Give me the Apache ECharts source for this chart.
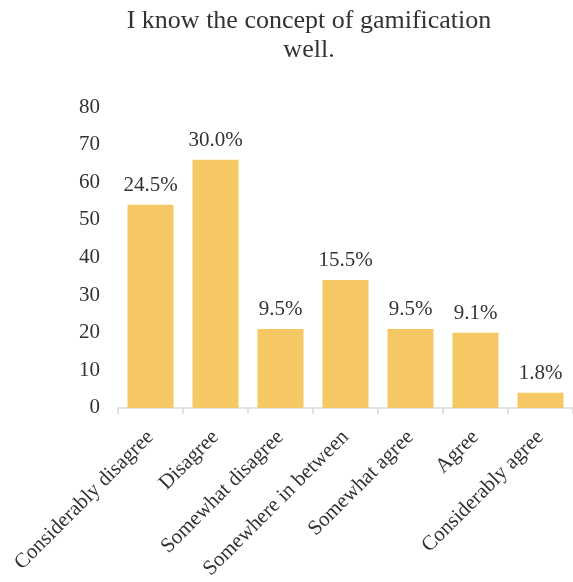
<!DOCTYPE html>
<html>
<head>
<meta charset="utf-8">
<script src="https://cdn.jsdelivr.net/npm/echarts@6/dist/echarts.min.js"></script>
<style>
  html, body { margin: 0; padding: 0; background: #fff; }
  #chart { width: 573px; height: 582px; }
</style>
</head>
<body>
<div id="chart"></div>
<script>
// Responses to the statement, counts per answer option
const categories = [
  'Considerably disagree',
  'Disagree',
  'Somewhat disagree',
  'Somewhere in between',
  'Somewhat agree',
  'Agree',
  'Considerably agree'
];
const counts = [54, 66, 21, 34, 21, 20, 4];
const yTicks = { min: 0, max: 80, interval: 10 };

const total = counts.reduce((a, b) => a + b, 0);
const percentLabels = counts.map(c => (c / total * 100).toFixed(1) + '%');

const serif = '"Liberation Serif", "Times New Roman", serif';
const textColor = '#333333';

const chart = echarts.init(document.getElementById('chart'));
chart.setOption({
  animation: false,
  backgroundColor: '#ffffff',
  title: {
    text: 'I know the concept of gamification\nwell.',
    left: 304,
    top: 2,
    textAlign: 'center',
    textStyle: {
      fontFamily: serif,
      fontSize: 26,
      fontWeight: 'normal',
      color: textColor,
      lineHeight: 29
    }
  },
  grid: {
    left: 118,
    top: 107,
    width: 462,
    height: 307,
    containLabel: false
  },
  xAxis: {
    type: 'category',
    data: categories,
    boundaryGap: true,
    axisLine: { lineStyle: { color: '#d9d9d9', width: 1.5 } },
    axisTick: { show: true, length: 6, lineStyle: { color: '#d9d9d9', width: 1.5 } },
    axisLabel: {
      rotate: 45,
      interval: 0,
      margin: 26,
      fontFamily: serif,
      fontSize: 21,
      color: textColor
    }
  },
  yAxis: {
    type: 'value',
    min: yTicks.min,
    max: yTicks.max,
    interval: yTicks.interval,
    splitLine: { show: false },
    axisLine: { show: false },
    axisTick: { show: false },
    axisLabel: {
      margin: 18,
      fontFamily: serif,
      fontSize: 21,
      color: textColor
    }
  },
  series: [{
    type: 'bar',
    data: counts,
    barWidth: 46,
    itemStyle: { color: '#F6C863' },
    label: {
      show: true,
      position: 'top',
      distance: 9,
      fontFamily: serif,
      fontSize: 21,
      color: textColor,
      formatter: p => percentLabels[p.dataIndex]
    }
  }]
});
</script>
</body>
</html>
